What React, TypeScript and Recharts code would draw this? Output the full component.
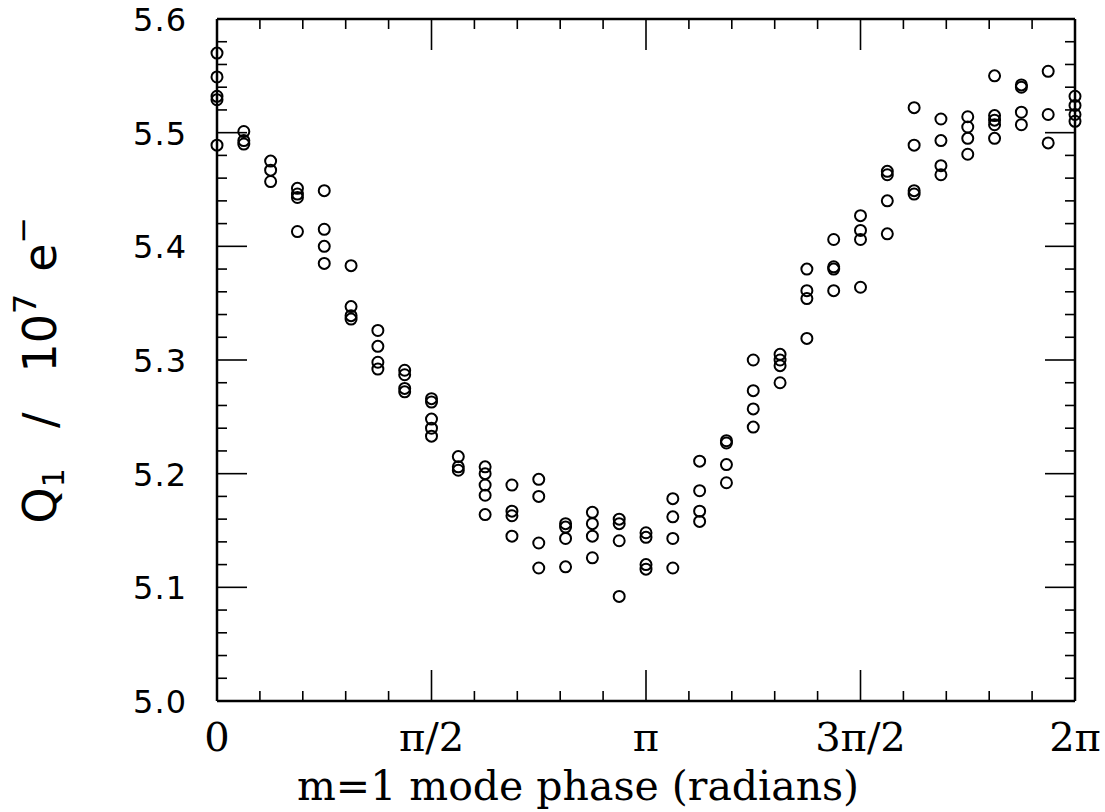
import { ScatterChart, Scatter, XAxis, YAxis, ReferenceLine } from "recharts";

// phase columns in units of pi/16
const phaseSixteenths = [
  0, 1, 2, 3, 4, 5, 6, 7, 8, 9, 10, 11, 12, 13, 14, 15, 16,
  17, 18, 19, 20, 21, 22, 23, 24, 25, 26, 27, 28, 29, 30, 31, 32,
];

// Q1 readings (10^7 e-) for each phase column
const q1ByPhase: number[][] = [
  [5.570, 5.549, 5.532, 5.529, 5.489],
  [5.501, 5.493, 5.490],
  [5.475, 5.467, 5.457],
  [5.451, 5.446, 5.443, 5.413],
  [5.449, 5.415, 5.400, 5.385],
  [5.383, 5.347, 5.339, 5.336],
  [5.326, 5.312, 5.298, 5.292],
  [5.291, 5.287, 5.275, 5.272],
  [5.266, 5.263, 5.248, 5.240, 5.233],
  [5.215, 5.206, 5.203],
  [5.206, 5.200, 5.190, 5.181, 5.164],
  [5.190, 5.167, 5.163, 5.145],
  [5.195, 5.180, 5.139, 5.117],
  [5.156, 5.153, 5.143, 5.118],
  [5.166, 5.156, 5.145, 5.126],
  [5.160, 5.156, 5.141, 5.092],
  [5.148, 5.144, 5.120, 5.116],
  [5.178, 5.162, 5.143, 5.117],
  [5.211, 5.185, 5.167, 5.158],
  [5.229, 5.227, 5.208, 5.192],
  [5.300, 5.273, 5.257, 5.241],
  [5.305, 5.300, 5.295, 5.280],
  [5.380, 5.361, 5.354, 5.319],
  [5.406, 5.382, 5.380, 5.361],
  [5.427, 5.414, 5.406, 5.364],
  [5.466, 5.463, 5.440, 5.411],
  [5.522, 5.489, 5.449, 5.446],
  [5.512, 5.493, 5.471, 5.463],
  [5.514, 5.505, 5.495, 5.481],
  [5.550, 5.515, 5.511, 5.507, 5.495],
  [5.542, 5.540, 5.518, 5.507],
  [5.554, 5.516, 5.491],
  [5.532, 5.524, 5.516, 5.510],
];

// x ticks every pi/10, labelled every pi/2
const xTickTenths = [0, 1, 2, 3, 4, 5, 6, 7, 8, 9, 10, 11, 12, 13, 14, 15, 16, 17, 18, 19, 20];
const xTickLabels: Record<number, string> = { 0: "0", 5: "π/2", 10: "π", 15: "3π/2", 20: "2π" };

const yTicks = [
  5.0, 5.02, 5.04, 5.06, 5.08, 5.1, 5.12, 5.14, 5.16, 5.18, 5.2, 5.22, 5.24, 5.26, 5.28,
  5.3, 5.32, 5.34, 5.36, 5.38, 5.4, 5.42, 5.44, 5.46, 5.48, 5.5, 5.52, 5.54, 5.56, 5.58, 5.6,
];

const points = phaseSixteenths.flatMap((n, i) =>
  q1ByPhase[i].map((q) => ({ x: (n * Math.PI) / 16, y: q }))
);

const W = 1105;
const H = 812;
const PLOT_TOP = 19;
const PLOT_RIGHT = 1075;
const Y_AXIS_W = 217;
const X_AXIS_H = 111;

const SERIF = "'DejaVu Serif', serif";
const SANS = "'DejaVu Sans', sans-serif";

function XTick(props: any) {
  const { x, y, payload } = props;
  const k = Math.round(payload.value / (Math.PI / 10));
  const major = k % 5 === 0;
  const len = major ? 31 : 10;
  return (
    <g>
      <line x1={x} y1={y} x2={x} y2={y - len} stroke="#000" strokeWidth={1.6} />
      <line x1={x} y1={PLOT_TOP} x2={x} y2={PLOT_TOP + len} stroke="#000" strokeWidth={1.6} />
      {major && (
        <text x={x} y={y + 50} textAnchor="middle" fontFamily={SERIF} fontSize={40} fill="#000">
          {xTickLabels[k]}
        </text>
      )}
    </g>
  );
}

function YTick(props: any) {
  const { x, y, payload } = props;
  const v = payload.value as number;
  const major = Math.abs(v * 10 - Math.round(v * 10)) < 1e-6;
  const len = major ? 30 : 10;
  return (
    <g>
      <line x1={x} y1={y} x2={x + len} y2={y} stroke="#000" strokeWidth={1.6} />
      <line x1={PLOT_RIGHT} y1={y} x2={PLOT_RIGHT - len} y2={y} stroke="#000" strokeWidth={1.6} />
      {major && (
        <text
          x={x - 30}
          y={y + 12}
          textAnchor="end"
          fontFamily={SANS}
          fontSize={32}
          letterSpacing={1}
          fill="#000"
        >
          {v.toFixed(1)}
        </text>
      )}
    </g>
  );
}

const OpenCircle = (props: any) => (
  <circle cx={props.cx} cy={props.cy} r={5.5} fill="none" stroke="#000" strokeWidth={2} />
);

export default function App() {
  return (
    <div style={{ position: "absolute", left: 0, top: 0, background: "#fff" }}>
      <ScatterChart
        width={W}
        height={H}
        margin={{ top: PLOT_TOP, right: W - PLOT_RIGHT, bottom: 0, left: 0 }}
      >
        <XAxis
          type="number"
          dataKey="x"
          domain={[0, 2 * Math.PI]}
          ticks={xTickTenths.map((k) => (k * Math.PI) / 10)}
          interval={0}
          height={X_AXIS_H}
          tickSize={0}
          tickMargin={0}
          tickLine={false}
          tick={<XTick />}
          axisLine={{ stroke: "#000", strokeWidth: 2.5 }}
        />
        <YAxis
          type="number"
          dataKey="y"
          domain={[5.0, 5.6]}
          ticks={yTicks}
          interval={0}
          width={Y_AXIS_W}
          tickSize={0}
          tickMargin={0}
          tickLine={false}
          tick={<YTick />}
          axisLine={{ stroke: "#000", strokeWidth: 2.5 }}
        />
        <ReferenceLine y={5.6} stroke="#000" strokeWidth={2.5} />
        <ReferenceLine x={2 * Math.PI} stroke="#000" strokeWidth={2.5} />
        <Scatter data={points} shape={<OpenCircle />} isAnimationActive={false} />
        <text x={578} y={800} textAnchor="middle" fontFamily={SERIF} fontSize={41} fill="#000">
          m=1 mode phase (radians)
        </text>
        <text
          x={56}
          y={370}
          transform="rotate(-90 56 370)"
          textAnchor="middle"
          fontFamily={SANS}
          fontSize={46}
          fill="#000"
        >
          Q<tspan fontSize={30} dy={8}>1</tspan>
          <tspan dx={40} dy={-8}>/</tspan>
          <tspan dx={40}>10</tspan>
          <tspan fontSize={32} dy={-20}>7</tspan>
          <tspan dx={22} dy={20}>e</tspan>
          <tspan fontSize={32} dy={-22}>−</tspan>
        </text>
      </ScatterChart>
    </div>
  );
}
